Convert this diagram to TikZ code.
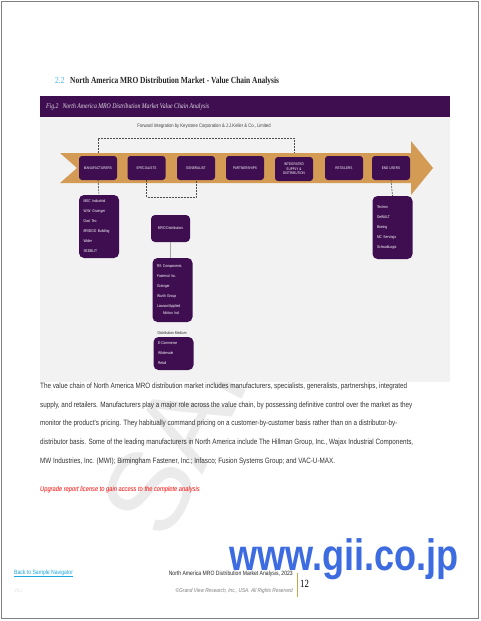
\documentclass[tikz,border=0pt]{standalone}
\usepackage{fontspec}
\setmainfont{Liberation Sans}
\newfontfamily\narrowsf[FakeStretch=0.82]{Liberation Sans}
\newfontfamily\narrowserif[FakeStretch=0.8]{Liberation Serif}
\usetikzlibrary{positioning}
\definecolor{plum}{HTML}{3E0E50}
\definecolor{band}{HTML}{D49B55}
\definecolor{panel}{HTML}{F2F2F2}
\definecolor{linkblue}{HTML}{1AA6E0}
\definecolor{headblue}{HTML}{3FB7EA}
\definecolor{giiblue}{HTML}{3D6CE0}
\definecolor{gold}{HTML}{C9A54A}
\definecolor{bodygray}{HTML}{333333}
\newcommand{\fsz}[2]{\fontsize{#1}{#2}\selectfont}

\begin{document}
\begin{tikzpicture}[
  x=1pt, y=-1pt,
  stage/.style={fill=plum, rounded corners=3pt, minimum width=38pt,
    minimum height=24pt, inner sep=1pt, text=white, align=center,
    font=\narrowsf\fsz{3.8}{4.6}},
  listbox/.style={fill=plum, rounded corners=5pt, inner xsep=4.5pt,
    inner ysep=3pt, text width=31pt, text=white, align=left,
    font=\narrowsf\fsz{4}{10}},
  smallnote/.style={font=\narrowsf\fsz{5.1}{6}, text=black!75, inner sep=0pt},
  fwd/.style={dash pattern=on 2pt off 1pt, black!70, line width=0.6pt},
  link/.style={black!35, line width=0.6pt},
  bodytext/.style={font=\narrowsf\fsz{7.7}{18.6}, text=bodygray, align=left,
    inner sep=0pt}
]
\useasboundingbox (0,0) rectangle (480,621);
\fill[white] (0,0) rectangle (480,621);

% watermark
\node[rotate=63, text=black!8, font=\fsz{115}{115}] (wmark) at (238,318) {SAMPLE};

% heading
\node[anchor=base west, text=headblue, font=\narrowserif\fsz{9.3}{10}, inner sep=0pt] (secno) at (55,83) {2.2};
\node[anchor=base west, font=\narrowserif\bfseries\fsz{9.3}{10}, text=black!85, inner sep=0pt] (title) at (70,83)
  {North America MRO Distribution Market - Value Chain Analysis};

% figure frame
\fill[plum] (40,96) rectangle (450,117);
\node[anchor=west, text=white!85!plum, font=\narrowserif\itshape\fsz{7.2}{8}, inner sep=0pt] (figcap) at (46,107)
  {Fig.2\hspace{4pt}North America MRO Distribution Market Value Chain Analysis};
\fill[panel] (40,117) rectangle (450,382);

% value chain arrow
\fill[band] (60,153) -- (411,153) -- (411,141) -- (433,168) -- (411,195)
  -- (411,183) -- (60,183) -- (77,168) -- cycle;

\node[stage] (mfr) at (98,168) {MANUFACTURERS};
\node[stage] (spec) at (146.5,168) {SPECIALISTS};
\node[stage] (gen) at (196,168) {GENERALIST};
\node[stage] (part) at (245,168) {PARTNERSHIPS};
\node[stage] (integ) at (294,169) {INTEGRATED\\SUPPLY \&\\DISTRIBUTION};
\node[stage] (ret) at (344,168) {RETAILERS};
\node[stage] (endu) at (391,168) {END USERS};

\node[smallnote] (fwdlabel) at (204,126)
  {Forward Integration by Keystone Corporation \& J.J.Keller \& Co., Limited};
\draw[fwd] ([yshift=3pt]mfr.north) -- ++(0,-15) -| ([yshift=4pt]integ.north);

% lists
\node[listbox, minimum height=63pt] (mfrlist) at (99,226.5)
  {MSC Industrial\\W.W. Grainger\\Dust Tec\\BRIDGO Building\\Wider\\SEDBLIT};
\node[stage, minimum width=39pt, minimum height=27pt, rounded corners=4pt,
  font=\narrowsf\fsz{4}{5}] (mrodist) at (170.5,228.5) {MRO Distributors};
\node[listbox, minimum height=64pt] (distlist) at (172.5,290)
  {RS Components\\Fastenal Inc.\\Grainger\\Wurth Group\\Lawson/Applied\\[-3pt]\hspace*{6pt}Motion Ind.};
\node[smallnote, text=black!85, font=\narrowsf\fsz{4}{5}] (medlabel) at (172,333) {Distribution Medium};
\node[listbox, minimum height=33pt] (medlist) at (173.5,353.5)
  {E-Commerce\\Wholesale\\Retail};
\node[listbox, minimum height=63pt] (endlist) at (392.5,227.5)
  {Textron\\DeWALT\\Boeing\\MC Servings\\SchwabLogix};

\draw[fwd] (mfr.south) -- (mfrlist.north);
\draw[fwd] (spec.south) -- ++(0,17) -| (gen.south);
\draw[fwd] (endu.south) -- (endlist.north);
\draw[link] (mrodist.south) -- (mrodist.south |- distlist.north);

% body text
\node[bodytext, anchor=north west] (para) at (40,383)
  {The value chain of North America MRO distribution market includes manufacturers, specialists, generalists, partnerships, integrated\\
   supply, and retailers. Manufacturers play a major role across the value chain, by possessing definitive control over the market as they\\
   monitor the product's pricing. They habitually command pricing on a customer-by-customer basis rather than on a distributor-by-\\
   distributor basis. Some of the leading manufacturers in North America include The Hillman Group, Inc., Wajax Industrial Components,\\
   MW Industries, Inc. (MWI); Birmingham Fastener, Inc.; Infasco; Fusion Systems Group; and VAC-U-MAX.};
\node[anchor=base west, text=red, font=\narrowsf\itshape\fsz{7}{8}, inner sep=0pt] (upgrade) at (40,491)
  {Upgrade report license to gain access to the complete analysis};

% footer
\node[anchor=base west, text=linkblue, font=\narrowsf\fsz{6.2}{7}, inner sep=0pt] (backlink) at (14,574)
  {\underline{Back to Sample Navigator}};
\node[anchor=base west, text=black!12, font=\narrowsf\fsz{5}{6}, inner sep=0pt] (version) at (14,592) {V0.1};
\node[anchor=base east, text=black!85, font=\narrowsf\fsz{6.2}{7}, inner sep=0pt] (footname) at (293,575)
  {North America MRO Distribution Market Analysis, 2023};
\node[anchor=base east, text=black!50, font=\narrowsf\itshape\fsz{5.8}{7}, inner sep=0pt] (footcopy) at (293,592)
  {\textcopyright Grand View Research, Inc., USA. All Rights Reserved};
\draw[gold, line width=0.8pt] (297,573) -- (297,597);
\node[anchor=base west, font=\narrowserif\fsz{11}{12}, inner sep=0pt] (pageno) at (300,587) {12};
\node[anchor=base west, text=giiblue, font=\narrowsf\bfseries\fsz{44}{44}, inner sep=0pt] (gii) at (229,570) {www.gii.co.jp};

\draw[black!50, line width=1pt] (1,1) rectangle (478,618);
\end{tikzpicture}
\end{document}
